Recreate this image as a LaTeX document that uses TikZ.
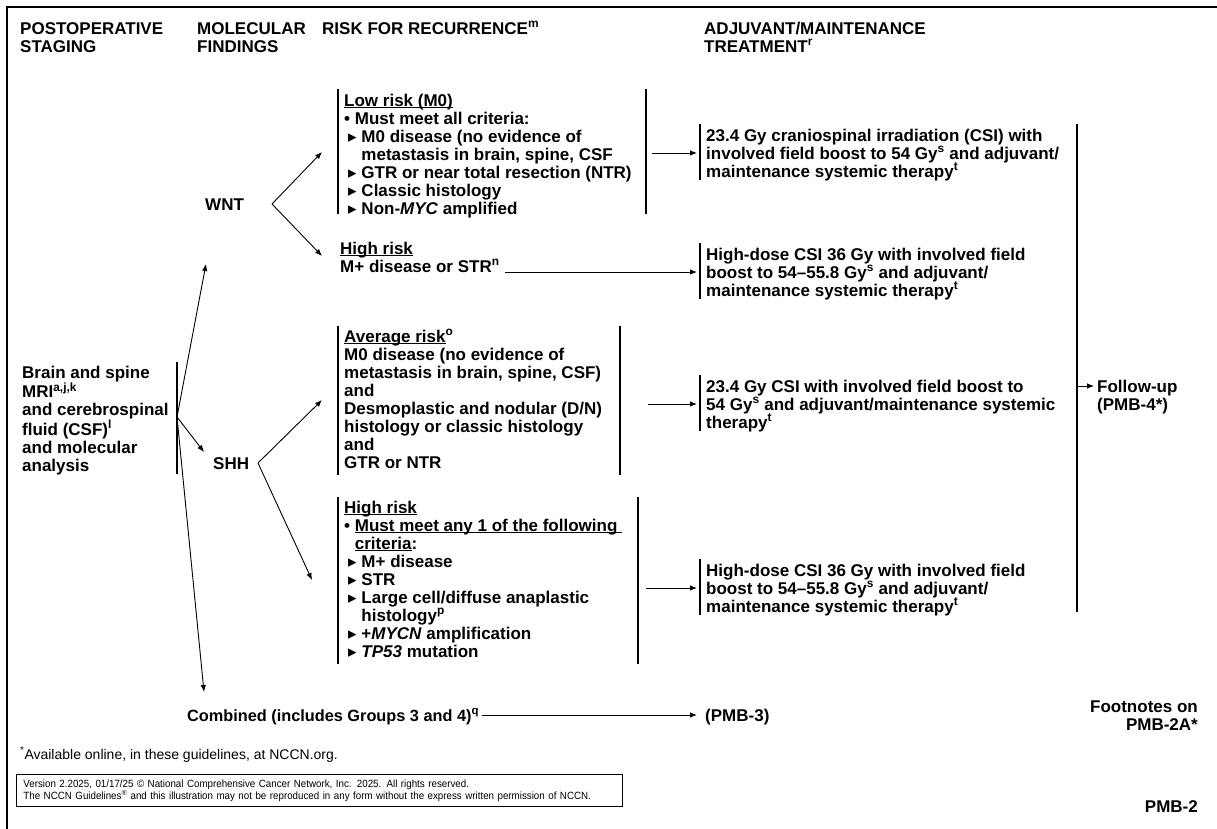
\documentclass[tikz,border=0pt]{standalone}
\usepackage{fontspec}
\setmainfont{Liberation Sans}
\newfontfamily\symfont{DejaVu Sans}
\newfontfamily\narrowfont{Liberation Sans}[FakeStretch=0.93]
\usetikzlibrary{arrows.meta}

\newcommand\bodyfont{\fontsize{17}{18}\selectfont\bfseries}
\newcommand\fl{\rule{0pt}{14pt}}
\newcommand\tri{{\symfont ▸}\hspace{0.28em}}
\newcommand\ind{\hphantom{\tri}}
\newcommand\ul[1]{\underline{\smash{#1}}}
\newcommand\sub{\hspace*{4pt}}

\tikzset{
  txt/.style={anchor=north west, inner sep=0pt, align=left, font=\bodyfont,
              yshift=14pt},
  rtxt/.style={txt, anchor=north east, align=right},
  bar/.style={line width=1.1pt},
  arr/.style={line width=0.9pt, -{Latex[length=7pt,width=5.5pt]}},
  frame/.style={line width=1.6pt}
}

\begin{document}
\begin{tikzpicture}[x=1pt,y=-1pt]
\useasboundingbox (0,0) rectangle (1217,829);
\fill[white] (0,0) rectangle (1217,829);

% page frame (top rule and left rule)
\coordinate (ftl) at (7,7);
\coordinate (ftr) at (1217,7);
\coordinate (fbl) at (7,829);
\draw[frame] (ftr) -- (ftl) -- (fbl);

% column headings
\node[txt] (h1) at (20,34) {\fl POSTOPERATIVE\\STAGING};
\node[txt] (h2) at (197,34) {\fl MOLECULAR\\FINDINGS};
\node[txt] (h3) at (322,34) {\fl RISK FOR RECURRENCE\textsuperscript{m}};
\node[txt] (h4) at (704,34) {\fl ADJUVANT/MAINTENANCE\\TREATMENT\textsuperscript{r}};

% postoperative staging
\node[txt] (stage) at (22,378) {\fl Brain and spine\\MRI\textsuperscript{a,j,k}\\and cerebrospinal\\fluid (CSF)\textsuperscript{l}\\and molecular\\analysis};
\coordinate (lbt) at (177,362);
\coordinate (lbb) at (177,474);
\coordinate (lv) at (177,417);
\draw[bar] (lbt) -- (lbb);

% molecular findings
\node[txt] (wnt) at (205,210) {\fl WNT};
\node[txt] (shh) at (213,469) {\fl SHH};
\coordinate (wntin) at (206,264);
\coordinate (shhin) at (204,452);
\coordinate (combin) at (204,692);
\draw[arr] (lv) -- (wntin);
\draw[arr] (lv) -- (shhin);
\draw[arr] (lv) -- (combin);

\coordinate (wv) at (272,204);
\coordinate (wlow) at (322,152);
\coordinate (whigh) at (322,256);
\draw[arr] (wv) -- (wlow);
\draw[arr] (wv) -- (whigh);

\coordinate (sv) at (258,463);
\coordinate (savg) at (322,400);
\coordinate (shigh) at (312,580);
\draw[arr] (sv) -- (savg);
\draw[arr] (sv) -- (shigh);

% WNT low risk
\node[txt] (low) at (344,106) {\fl\ul{Low risk (M0)}\\
• Must meet all criteria:\\
\sub\tri M0 disease (no evidence of\\
\sub\ind metastasis in brain, spine, CSF\\
\sub\tri GTR or near total resection (NTR)\\
\sub\tri Classic histology\\
\sub\tri Non-\textit{MYC} amplified};
\coordinate (lowl1) at (338,89);
\coordinate (lowl2) at (338,214);
\coordinate (lowr1) at (646,89);
\coordinate (lowr2) at (646,214);
\draw[bar] (lowl1) -- (lowl2);
\draw[bar] (lowr1) -- (lowr2);

% WNT high risk
\node[txt] (whr) at (340,254) {\fl\ul{High risk}\\M+ disease or STR\textsuperscript{n}};

% SHH average risk
\node[txt] (avg) at (344,342) {\fl\ul{Average risk}\textsuperscript{o}\\
M0 disease (no evidence of\\
metastasis in brain, spine, CSF)\\
and\\
Desmoplastic and nodular (D/N)\\
histology or classic histology\\
and\\
GTR or NTR};
\coordinate (avgl1) at (338,326);
\coordinate (avgl2) at (338,475);
\coordinate (avgr1) at (620,326);
\coordinate (avgr2) at (620,475);
\draw[bar] (avgl1) -- (avgl2);
\draw[bar] (avgr1) -- (avgr2);

% SHH high risk
\node[txt] (shr) at (344,513) {\fl\ul{High risk}\\
• \ul{Must meet any 1 of the following\ }\\
\hphantom{• }\ul{criteria}:\\
\sub\tri M+ disease\\
\sub\tri STR\\
\sub\tri Large cell/diffuse anaplastic\\
\sub\ind histology\textsuperscript{p}\\
\sub\tri +\textit{MYCN} amplification\\
\sub\tri \textit{TP53} mutation};
\coordinate (shrl1) at (338,497);
\coordinate (shrl2) at (338,664);
\coordinate (shrr1) at (638,497);
\coordinate (shrr2) at (638,664);
\draw[bar] (shrl1) -- (shrl2);
\draw[bar] (shrr1) -- (shrr2);

% risk -> treatment
\coordinate (o1) at (652,153);  \coordinate (i1) at (697,153);
\coordinate (o2) at (505,272);  \coordinate (i2) at (697,272);
\coordinate (o3) at (648,404);  \coordinate (i3) at (697,404);
\coordinate (o4) at (646,588);  \coordinate (i4) at (697,588);
\draw[arr] (o1) -- (i1);
\draw[arr] (o2) -- (i2);
\draw[arr] (o3) -- (i3);
\draw[arr] (o4) -- (i4);

% treatments
\node[txt] (t1) at (706,141) {\fl 23.4 Gy craniospinal irradiation (CSI) with\\
involved field boost to 54 Gy\textsuperscript{s} and adjuvant/\\
maintenance systemic therapy\textsuperscript{t}};
\node[txt] (t2) at (706,260) {\fl High-dose CSI 36 Gy with involved field\\
boost to 54–55.8 Gy\textsuperscript{s} and adjuvant/\\
maintenance systemic therapy\textsuperscript{t}};
\node[txt] (t3) at (706,392) {\fl 23.4 Gy CSI with involved field boost to\\
54 Gy\textsuperscript{s} and adjuvant/maintenance systemic\\
therapy\textsuperscript{t}};
\node[txt] (t4) at (706,576) {\fl High-dose CSI 36 Gy with involved field\\
boost to 54–55.8 Gy\textsuperscript{s} and adjuvant/\\
maintenance systemic therapy\textsuperscript{t}};
\coordinate (t1a) at (700,124); \coordinate (t1b) at (700,180);
\coordinate (t2a) at (700,243); \coordinate (t2b) at (700,299);
\coordinate (t3a) at (700,375); \coordinate (t3b) at (700,431);
\coordinate (t4a) at (700,559); \coordinate (t4b) at (700,615);
\draw[bar] (t1a) -- (t1b);
\draw[bar] (t2a) -- (t2b);
\draw[bar] (t3a) -- (t3b);
\draw[bar] (t4a) -- (t4b);

% follow-up
\coordinate (fb1) at (1077,124);
\coordinate (fb2) at (1077,612);
\coordinate (fo) at (1077,386);
\coordinate (fi) at (1094,386);
\draw[bar] (fb1) -- (fb2);
\draw[arr] (fo) -- (fi);
\node[txt] (fu) at (1097,392) {\fl Follow-up\\(PMB-4*)};

% combined groups
\node[txt, font=\fontsize{16.3}{18}\selectfont\bfseries] (comb) at (187,721) {\fl Combined (includes Groups 3 and 4)\textsuperscript{q}};
\node[txt] (pmb3) at (705,721) {\fl (PMB-3)};
\coordinate (co) at (482,715);
\coordinate (ci) at (697,715);
\draw[arr] (co) -- (ci);

% notes
\node[rtxt] (fn) at (1198,712) {\fl Footnotes on\\PMB-2A*};
\node[anchor=base west, inner sep=0pt, font=\fontsize{14}{16}\selectfont] (avail) at (20,759) {\textsuperscript{*}Available online, in these guidelines, at NCCN.org.};
\node[draw, line width=0.8pt, anchor=north west, inner xsep=7pt, inner ysep=5pt,
      text width=592pt, align=left,
      font=\narrowfont\fontsize{10.5}{12.5}\selectfont] (copy) at (16,774)
  {Version 2.2025, 01/17/25 © National Comprehensive Cancer Network, Inc. 2025. All rights reserved.\\
   The NCCN Guidelines\textsuperscript{®} and this illustration may not be reproduced in any form without the express written permission of NCCN.};
\node[rtxt] (page) at (1198,812) {\fl PMB-2};
\end{tikzpicture}
\end{document}
